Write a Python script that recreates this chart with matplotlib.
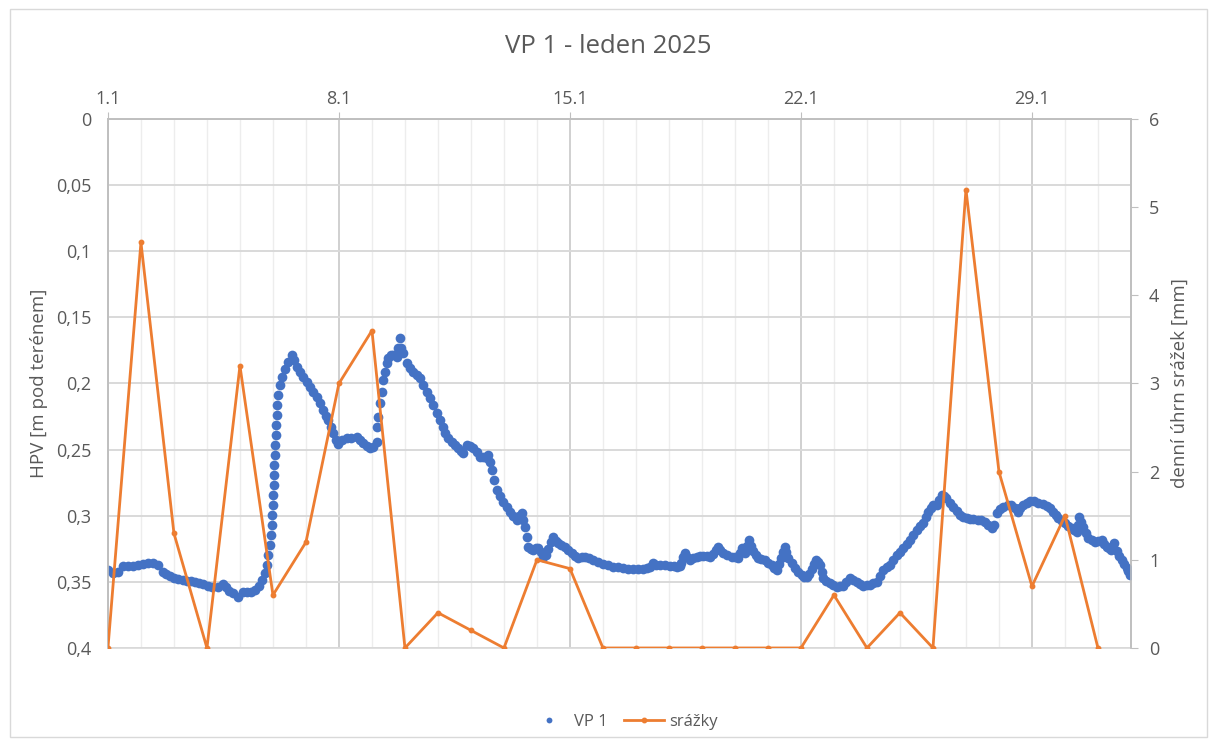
import numpy as np
import matplotlib
matplotlib.use("Agg")
import matplotlib.pyplot as plt
from matplotlib.ticker import FixedLocator, FuncFormatter, MultipleLocator
from matplotlib.lines import Line2D
from matplotlib.patches import Rectangle

plt.rcParams['font.family'] = ['Open Sans', 'DejaVu Sans']

# denni srazky [mm], den 0 = 1.1.2025
srazky_den = list(range(31))
srazky = [0, 4.6, 1.3, 0, 3.2, 0.6, 1.2, 3.0, 3.6, 0, 0.4, 0.2, 0, 1.0, 0.9,
          0, 0, 0, 0, 0, 0, 0, 0.6, 0, 0.4, 0, 5.2, 2.0, 0.7, 1.5, 0]

# hladina podzemni vody VP 1 (cas ve dnech od 1.1. 0:00, HPV v m pod terenem)
cas = [0.00, 0.15, 0.30, 0.45, 0.61, 0.76, 0.91, 1.06, 1.21, 1.36, 1.52, 1.67, 1.76, 1.88,
       2.00, 2.12, 2.27, 2.39, 2.52, 2.64, 2.76, 2.88, 3.03, 3.15, 3.33, 3.48, 3.58, 3.67,
       3.79, 3.94, 4.09, 4.21, 4.33, 4.45, 4.58, 4.67, 4.76, 4.82, 4.86, 4.91, 4.94, 4.96,
       4.98, 4.99, 5.01, 5.02, 5.03, 5.04, 5.05, 5.07, 5.08, 5.09, 5.11, 5.12, 5.15, 5.21,
       5.27, 5.36, 5.45, 5.57, 5.64, 5.73, 5.82, 5.92, 6.03, 6.12, 6.21, 6.32, 6.42, 6.52,
       6.61, 6.68, 6.76, 6.83, 6.91, 6.98, 7.08, 7.23, 7.36, 7.54, 7.64, 7.74, 7.85, 7.94,
       8.03, 8.14, 8.16, 8.18, 8.24, 8.29, 8.33, 8.39, 8.45, 8.49, 8.58, 8.65, 8.75, 8.80,
       8.85, 8.89, 8.93, 9.05, 9.15, 9.25, 9.36, 9.45, 9.55, 9.66, 9.76, 9.86, 9.97, 10.06,
       10.14, 10.21, 10.30, 10.42, 10.52, 10.62, 10.70, 10.77, 10.87, 10.97, 11.07, 11.17,
       11.27, 11.36, 11.48, 11.52, 11.58, 11.63, 11.70, 11.78, 11.88, 11.98, 12.08, 12.18,
       12.28, 12.39, 12.45, 12.54, 12.59, 12.64, 12.69, 12.74, 12.82, 12.89, 12.97, 13.04,
       13.12, 13.19, 13.26, 13.34, 13.42, 13.50, 13.58, 13.65, 13.74, 13.85, 13.94, 14.05,
       14.15, 14.25, 14.35, 14.45, 14.58, 14.71, 14.85, 15.01, 15.15, 15.31, 15.45, 15.62,
       15.76, 15.92, 16.06, 16.22, 16.33, 16.42, 16.52, 16.62, 16.73, 16.88, 17.03, 17.14,
       17.23, 17.32, 17.38, 17.44, 17.48, 17.56, 17.64, 17.74, 17.84, 17.94, 18.04, 18.14,
       18.24, 18.33, 18.42, 18.49, 18.56, 18.64, 18.77, 18.90, 19.00, 19.10, 19.15, 19.20,
       19.25, 19.30, 19.37, 19.43, 19.49, 19.55, 19.64, 19.71, 19.80, 19.91, 20.01, 20.11,
       20.18, 20.26, 20.34, 20.41, 20.46, 20.52, 20.56, 20.62, 20.72, 20.82, 20.92, 21.02,
       21.09, 21.17, 21.24, 21.32, 21.39, 21.45, 21.52, 21.58, 21.63, 21.68, 21.77, 21.88,
       21.98, 22.08, 22.18, 22.28, 22.38, 22.48, 22.59, 22.69, 22.79, 22.89, 22.99, 23.09,
       23.19, 23.29, 23.39, 23.49, 23.60, 23.70, 23.80, 23.90, 24.00, 24.10, 24.20, 24.30,
       24.40, 24.51, 24.61, 24.71, 24.79, 24.86, 24.94, 25.01, 25.11, 25.18, 25.26, 25.33,
       25.41, 25.52, 25.62, 25.72, 25.82, 25.92, 26.02, 26.12, 26.22, 26.35, 26.47, 26.58,
       26.68, 26.78, 26.85, 26.93, 27.03, 27.13, 27.26, 27.38, 27.48, 27.59, 27.65, 27.74,
       27.84, 27.94, 28.06, 28.19, 28.32, 28.45, 28.55, 28.65, 28.72, 28.80, 28.90, 29.00,
       29.10, 29.20, 29.27, 29.35, 29.39, 29.43, 29.49, 29.55, 29.63, 29.71, 29.81, 29.91,
       30.01, 30.11, 30.19, 30.26, 30.34, 30.41, 30.48, 30.57, 30.64, 30.72, 30.79, 30.87,
       30.92, 30.97]
hpv = [0.341, 0.343, 0.3425, 0.338, 0.338, 0.338, 0.337, 0.3365, 0.336, 0.3357, 0.337, 0.3425,
       0.344, 0.3455, 0.347, 0.348, 0.3485, 0.349, 0.3495, 0.350, 0.351, 0.352, 0.353, 0.354,
       0.354, 0.352, 0.354, 0.357, 0.3585, 0.3615, 0.358, 0.358, 0.3575, 0.356, 0.353, 0.3485,
       0.343, 0.337, 0.330, 0.322, 0.3145, 0.307, 0.2995, 0.292, 0.284, 0.277, 0.269, 0.2615,
       0.254, 0.2465, 0.239, 0.2315, 0.224, 0.216, 0.2087, 0.201, 0.195, 0.189, 0.1837, 0.1785,
       0.182, 0.1875, 0.191, 0.195, 0.199, 0.2026, 0.2064, 0.210, 0.2147, 0.220, 0.2246, 0.2276,
       0.233, 0.2377, 0.2427, 0.2457, 0.2427, 0.241, 0.241, 0.2402, 0.2427, 0.245, 0.2473,
       0.2488, 0.248, 0.244, 0.233, 0.225, 0.215, 0.2064, 0.197, 0.191, 0.1845, 0.181, 0.1785,
       0.1785, 0.180, 0.173, 0.1656, 0.173, 0.177, 0.1845, 0.188, 0.191, 0.1935, 0.196, 0.201,
       0.2064, 0.211, 0.2163, 0.2223, 0.2276, 0.233, 0.2377, 0.241, 0.244, 0.2465, 0.2488,
       0.251, 0.2527, 0.2465, 0.2473, 0.2488, 0.2518, 0.2555, 0.2555, 0.2563, 0.254, 0.2594,
       0.2654, 0.273, 0.2805, 0.285, 0.2896, 0.2934, 0.2972, 0.300, 0.3032, 0.300, 0.298,
       0.3032, 0.3085, 0.316, 0.3236, 0.3251, 0.326, 0.3245, 0.3245, 0.3274, 0.331, 0.3297,
       0.325, 0.3198, 0.316, 0.319, 0.3206, 0.3221, 0.3234, 0.326, 0.328, 0.3304, 0.332, 0.3312,
       0.331, 0.332, 0.3335, 0.335, 0.3365, 0.3376, 0.3385, 0.3391, 0.3397, 0.3403, 0.3403,
       0.3403, 0.3403, 0.3395, 0.3385, 0.336, 0.3373, 0.3373, 0.3376, 0.3377, 0.338, 0.3385,
       0.338, 0.336, 0.331, 0.3284, 0.331, 0.3335, 0.332, 0.331, 0.3307, 0.3304, 0.3307, 0.331,
       0.329, 0.326, 0.3234, 0.326, 0.3284, 0.3297, 0.331, 0.3315, 0.332, 0.328, 0.3246, 0.3266,
       0.3284, 0.3229, 0.3183, 0.3229, 0.327, 0.3297, 0.332, 0.3327, 0.3335, 0.3354, 0.3373,
       0.3395, 0.341, 0.3365, 0.332, 0.3274, 0.3234, 0.3274, 0.332, 0.3357, 0.3397, 0.3425,
       0.3448, 0.3463, 0.3467, 0.344, 0.3403, 0.3365, 0.3335, 0.335, 0.3373, 0.3425, 0.3473,
       0.3493, 0.351, 0.3524, 0.3536, 0.3535, 0.353, 0.350, 0.3473, 0.3486, 0.3498, 0.3516,
       0.353, 0.3527, 0.3523, 0.3512, 0.3498, 0.3455, 0.341, 0.3391, 0.3373, 0.3335, 0.3297,
       0.3272, 0.3246, 0.3214, 0.3183, 0.3146, 0.3108, 0.3081, 0.3057, 0.301, 0.2969, 0.2941,
       0.2919, 0.2919, 0.2881, 0.2843, 0.2851, 0.2868, 0.290, 0.2932, 0.2964, 0.2994, 0.301,
       0.302, 0.3025, 0.3027, 0.3029, 0.3032, 0.3051, 0.307, 0.3095, 0.307, 0.2982, 0.2949,
       0.2932, 0.2922, 0.2919, 0.2941, 0.2969, 0.2941, 0.2919, 0.290, 0.2886, 0.2892, 0.2906,
       0.2915, 0.2926, 0.2945, 0.2969, 0.2994, 0.302, 0.304, 0.3057, 0.3078, 0.3095, 0.3107,
       0.312, 0.307, 0.3007, 0.3047, 0.3083, 0.3127, 0.317, 0.3183, 0.3196, 0.3191, 0.3183,
       0.321, 0.3234, 0.3247, 0.3259, 0.3203, 0.327, 0.3304, 0.3335, 0.3365, 0.3397, 0.3421,
       0.3448]

datum_pozice = [0, 7, 14, 21, 28]
datum_popisky = ['1.1', '8.1', '15.1', '22.1', '29.1']

modra = '#4472C4'
oranzova = '#ED7D31'
seda_text = '#595959'

fig = plt.figure(figsize=(12.17, 7.46), dpi=100)
fig.patches.append(Rectangle((0.008, 0.012), 0.984, 0.976, transform=fig.transFigure,
                             fill=False, edgecolor='#d9d9d9', linewidth=1))
ax = fig.add_axes([0.0887, 0.1314, 0.8406, 0.7091])
ax2 = ax.twinx()

ax.plot(cas, hpv, 'o', color=modra, markersize=7, markeredgewidth=0, zorder=3)
ax2.plot(srazky_den, srazky, '-o', color=oranzova, linewidth=2.0, markersize=3.2, zorder=4)

ax.set_xlim(0, 31)
ax.set_ylim(0.4, 0)
ax2.set_ylim(0, 6)

ax.xaxis.tick_top()
ax.xaxis.set_major_locator(FixedLocator(datum_pozice))
ax.set_xticklabels(datum_popisky)
ax.xaxis.set_minor_locator(MultipleLocator(1))
ax.yaxis.set_major_locator(MultipleLocator(0.05))
ax.yaxis.set_major_formatter(FuncFormatter(lambda v, p: ('%g' % round(v, 3)).replace('.', ',')))
ax2.yaxis.set_major_locator(MultipleLocator(1))

ax.grid(which='major', axis='y', color='#d9d9d9', linewidth=1.4)
ax.grid(which='major', axis='x', color='#d0d0d0', linewidth=1.4)
ax.grid(which='minor', axis='x', color='#ededed', linewidth=1.0)
ax.set_axisbelow(True)

ax.tick_params(axis='x', which='major', top=True, length=5, color='#bfbfbf', labelsize=13,
               labelcolor=seda_text, pad=3)
ax.tick_params(axis='x', which='minor', top=False, length=0)
ax.tick_params(axis='y', length=0, labelsize=13, labelcolor=seda_text, pad=12)
ax2.tick_params(axis='y', length=5, color='#bfbfbf', labelsize=13, labelcolor=seda_text, pad=8)

for a in (ax, ax2):
    for s in a.spines.values():
        s.set_color('#bfbfbf')
        s.set_linewidth(1.2)
ax.spines['bottom'].set_color('#d9d9d9')
ax2.spines['bottom'].set_visible(False)

ax.set_ylabel('HPV [m pod terénem]', fontsize=13.5, color=seda_text, labelpad=6)
ax2.set_ylabel('denní úhrn srážek [mm]', fontsize=13.5, color=seda_text, labelpad=8)

fig.text(0.5, 0.938, 'VP 1 - leden 2025', ha='center', va='center', fontsize=18.5, color=seda_text)

handles = [Line2D([], [], linestyle='none', marker='o', color=modra, markersize=4.2, markeredgewidth=0),
           Line2D([], [], color=oranzova, linewidth=2.0, marker='o', markersize=3.2)]
fig.legend(handles, ['VP 1', 'srážky'], loc='center', bbox_to_anchor=(0.512, 0.032), ncol=2,
           frameon=False, fontsize=12, labelcolor=seda_text, handlelength=2.4,
           handletextpad=0.3, columnspacing=1.0)

fig.savefig('out.png', dpi=100)
